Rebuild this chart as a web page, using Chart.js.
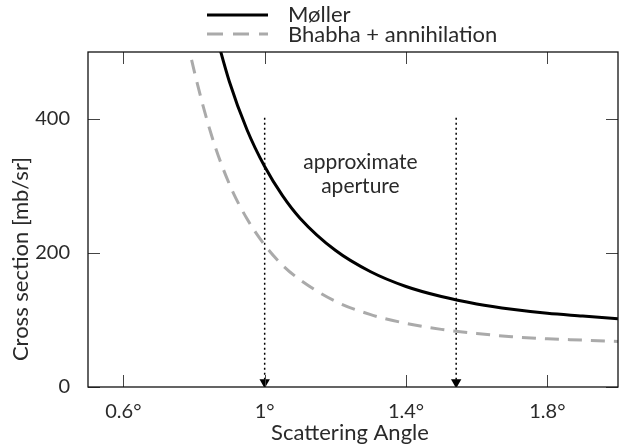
<!DOCTYPE html>
<html>
<head>
<meta charset="utf-8">
<script src="https://cdn.jsdelivr.net/npm/chart.js@4.4.0/dist/chart.umd.min.js"></script>
<style>
  html, body { margin: 0; padding: 0; background: #fff; }
</style>
</head>
<body>
<canvas id="chart" width="624" height="445"></canvas>
<script>
// values (angle in degrees, cross section in mb/sr)
const mollerAngles = [0.85, 0.9, 0.95, 1.0, 1.05, 1.1, 1.2, 1.3, 1.4, 1.5, 1.6, 1.7, 1.8, 1.9, 2.0];
const moller = [550, 456, 384, 329, 286, 252, 204, 172, 150, 135, 124, 116, 110, 106, 102];
const bhabhaAngles = [0.76, 0.78, 0.8, 0.85, 0.9, 0.95, 1.0, 1.05, 1.1, 1.2, 1.3, 1.4, 1.5, 1.6, 1.7, 1.8, 1.9, 2.0];
const bhabha = [590, 522, 473, 375, 303, 251, 212, 182, 160, 128, 108, 95, 86, 80, 75, 72, 70, 68];
const xTicks = [0.6, 1.0, 1.4, 1.8];
const yTicks = [0, 200, 400];
const apertureEdges = [1.0, 1.542];
const arrowTop = 402;
const arrowFoot = 7;

const toPoints = (xs, ys) => xs.map((x, i) => ({ x: x, y: ys[i] }));

Chart.defaults.font.family = 'Lato';
Chart.defaults.font.size = 20;
Chart.defaults.color = '#2a2a2a';

const datasets = [
  {
    label: 'Møller',
    data: toPoints(mollerAngles, moller),
    borderColor: '#000',
    borderWidth: 3,
    showLine: true,
    pointRadius: 0,
    cubicInterpolationMode: 'monotone',
  },
  {
    label: 'Bhabha + annihilation',
    data: toPoints(bhabhaAngles, bhabha),
    borderColor: '#aaa',
    borderWidth: 3,
    borderDash: [14, 9],
    showLine: true,
    pointRadius: 0,
    cubicInterpolationMode: 'monotone',
  },
];

// dotted arrows marking the aperture
apertureEdges.forEach((a) => {
  datasets.push({
    label: 'arrow',
    data: [{ x: a, y: arrowTop }, { x: a, y: arrowFoot }],
    borderColor: '#000',
    borderWidth: 1.5,
    borderDash: [2, 3],
    showLine: true,
    pointStyle: 'triangle',
    pointRotation: 180,
    pointRadius: [0, 6],
    pointBackgroundColor: '#000',
    pointBorderColor: '#000',
    pointBorderWidth: 0,
  });
});

const framePlugin = {
  id: 'frame',
  afterDatasetsDraw(chart) {
    const { ctx, chartArea: a, scales } = chart;
    const xs = scales.x, ys = scales.y;
    ctx.save();
    // inward ticks on all four sides
    ctx.strokeStyle = '#444';
    ctx.lineWidth = 1;
    ctx.beginPath();
    xTicks.forEach((t) => {
      const px = Math.round(xs.getPixelForValue(t)) + 0.5;
      ctx.moveTo(px, a.bottom); ctx.lineTo(px, a.bottom - 12);
      ctx.moveTo(px, a.top); ctx.lineTo(px, a.top + 12);
    });
    yTicks.forEach((t) => {
      const py = Math.round(ys.getPixelForValue(t)) + 0.5;
      ctx.moveTo(a.left, py); ctx.lineTo(a.left + 12, py);
      ctx.moveTo(a.right, py); ctx.lineTo(a.right - 12, py);
    });
    ctx.stroke();
    // box
    ctx.strokeStyle = '#111';
    ctx.lineWidth = 1.3;
    ctx.strokeRect(a.left, a.top, a.right - a.left, a.bottom - a.top);

    // annotation text between arrows
    const cx = (xs.getPixelForValue(apertureEdges[0]) + xs.getPixelForValue(apertureEdges[1])) / 2;
    ctx.fillStyle = '#2a2a2a';
    ctx.font = '21px Lato';
    ctx.textAlign = 'center';
    ctx.textBaseline = 'middle';
    ctx.fillText('approximate', cx, 162);
    ctx.fillText('aperture', cx, 186);

    // axis titles
    ctx.font = '22px Lato';
    ctx.fillText('Scattering Angle', (a.left + a.right) / 2 - 3, 433);
    ctx.save();
    ctx.translate(21, 259);
    ctx.rotate(-Math.PI / 2);
    ctx.fillText('Cross section [mb/sr]', 0, 0);
    ctx.restore();

    // legend
    ctx.font = '22px Lato';
    ctx.textAlign = 'left';
    ctx.lineWidth = 3;
    ctx.strokeStyle = '#000';
    ctx.beginPath(); ctx.moveTo(207, 15); ctx.lineTo(268, 15); ctx.stroke();
    ctx.strokeStyle = '#aaa';
    ctx.setLineDash([16, 10]);
    ctx.beginPath(); ctx.moveTo(207, 34); ctx.lineTo(268, 34); ctx.stroke();
    ctx.setLineDash([]);
    ctx.fillText('Møller', 288, 15);
    ctx.fillText('Bhabha + annihilation', 288, 35);
    ctx.restore();
  },
};

new Chart(document.getElementById('chart'), {
  type: 'scatter',
  data: { datasets: datasets },
  options: {
    responsive: false,
    animation: false,
    devicePixelRatio: 1,
    layout: { padding: { top: 52, right: 6, left: 0, bottom: 0 } },
    plugins: {
      legend: { display: false },
      tooltip: { enabled: false },
    },
    scales: {
      x: {
        type: 'linear',
        min: 0.5,
        max: 2.0,
        grid: { display: false },
        border: { display: false },
        afterBuildTicks: (s) => { s.ticks = xTicks.map((v) => ({ value: v })); },
        afterFit: (s) => { s.height = 58; },
        ticks: {
          padding: 5,
          callback: (v) => (v === 1 ? '1' : v.toFixed(1)) + '°',
        },
      },
      y: {
        min: 0,
        max: 500,
        grid: { display: false },
        border: { display: false },
        afterBuildTicks: (s) => { s.ticks = yTicks.map((v) => ({ value: v })); },
        afterFit: (s) => { s.width = 88; },
        ticks: { padding: 10 },
      },
    },
  },
  plugins: [framePlugin],
});
</script>
</body>
</html>
